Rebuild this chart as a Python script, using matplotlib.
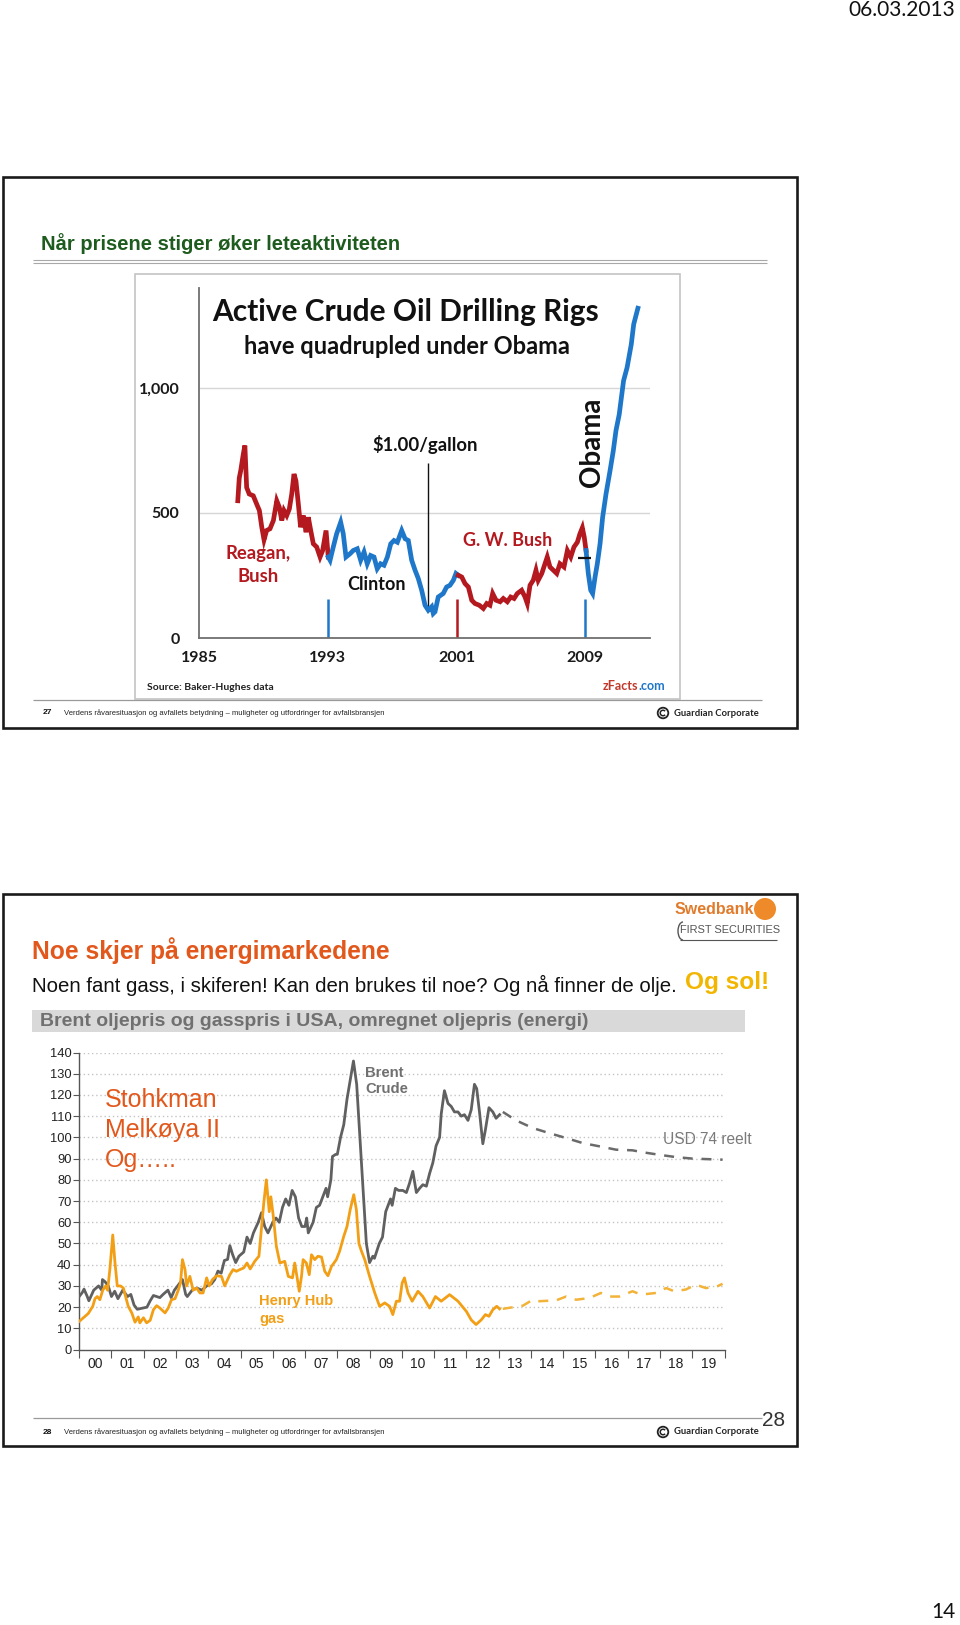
import numpy as np
import matplotlib.pyplot as plt
from matplotlib.patches import Rectangle, Circle, Arc

# active crude oil rigs (Baker-Hughes)
rig_year = np.array([
    1987.41, 1987.50, 1987.59, 1987.75, 1987.85, 1987.96, 1988.12, 1988.37, 1988.58, 1988.75,
    1988.90, 1989.04, 1989.20, 1989.41, 1989.62, 1989.83, 1989.99, 1990.14, 1990.28, 1990.45,
    1990.61, 1990.76, 1990.90, 1991.02, 1991.17, 1991.31, 1991.48, 1991.65, 1991.79, 1991.94,
    1992.10, 1992.31, 1992.52, 1992.68, 1992.89, 1993.03,
    1993.14, 1993.34, 1993.55, 1993.80, 1993.96, 1994.13, 1994.38, 1994.58, 1994.83, 1995.04,
    1995.25, 1995.45, 1995.66, 1995.87, 1996.07, 1996.28, 1996.49, 1996.70, 1996.91, 1997.11,
    1997.32, 1997.59, 1997.80, 1998.00, 1998.21, 1998.42, 1998.62, 1998.83, 1999.04, 1999.24,
    1999.45, 1999.55, 1999.66, 1999.86, 2000.17, 2000.38, 2000.59, 2000.80, 2000.96,
    2001.10, 2001.32, 2001.52, 2001.73, 2001.94, 2002.14, 2002.41, 2002.66, 2002.87, 2003.07,
    2003.24, 2003.45, 2003.70, 2003.90, 2004.15, 2004.36, 2004.57, 2004.77, 2005.04, 2005.25,
    2005.39, 2005.56, 2005.76, 2005.93, 2006.07, 2006.29, 2006.49, 2006.63, 2006.80, 2007.01,
    2007.22, 2007.42, 2007.67, 2007.88, 2008.09, 2008.29, 2008.50, 2008.66, 2008.81, 2008.93,
    2009.04, 2009.18, 2009.33, 2009.45, 2009.60, 2009.74, 2009.91, 2010.07, 2010.28, 2010.53,
    2010.73, 2010.90, 2011.10, 2011.37, 2011.59, 2011.85, 2012.00, 2012.26])
rig_count = np.array([
    549, 640, 669, 735, 770, 602, 576, 569, 536, 510,
    443, 393, 430, 437, 470, 549, 523, 470, 510, 490,
    516, 576, 656, 629, 536, 443, 490, 423, 483, 430,
    377, 364, 324, 350, 430, 324,
    311, 364, 417, 463, 417, 324, 337, 350, 357, 311,
    344, 297, 330, 324, 277, 297, 291, 324, 377, 390,
    383, 430, 397, 390, 311, 271, 238, 191, 131, 111,
    125, 98, 105, 164, 178, 204, 211, 231, 258,
    251, 244, 218, 204, 151, 138, 131, 118, 138, 131,
    178, 151, 145, 158, 145, 164, 158, 178, 191, 164,
    138, 211, 231, 271, 231, 258, 297, 324, 284, 271,
    258, 297, 284, 350, 324, 364, 383, 417, 441, 403,
    350, 258, 191, 178, 244, 297, 377, 483, 576, 669,
    748, 830, 894, 1029, 1082, 1175, 1255, 1319])
term_start = [1985, 1993, 2001, 2009]
term_end = [1993, 2001, 2009, 2013]
term_colors = ['#b3191f', '#1f77c9', '#b3191f', '#1f77c9']

# Brent and Henry Hub (oil-equivalent), USD
brent_year = [2000.0, 2000.1, 2000.15, 2000.25, 2000.3, 2000.45, 2000.6, 2000.7, 2000.72, 2000.8,
              2000.9, 2001.0, 2001.1, 2001.2, 2001.35, 2001.5, 2001.6, 2001.7, 2001.8, 2001.95,
              2002.1, 2002.2, 2002.3, 2002.4, 2002.5, 2002.6, 2002.75, 2002.85, 2002.95, 2003.1,
              2003.2, 2003.3, 2003.35, 2003.5, 2003.65, 2003.8, 2003.95, 2004.1, 2004.2, 2004.3,
              2004.4, 2004.5, 2004.6, 2004.67, 2004.75, 2004.85, 2004.95, 2005.1, 2005.2, 2005.3,
              2005.4, 2005.55, 2005.65, 2005.75, 2005.85, 2006.0, 2006.1, 2006.2, 2006.3, 2006.4,
              2006.5, 2006.6, 2006.7, 2006.8, 2006.9, 2007.0, 2007.05, 2007.1, 2007.25, 2007.35,
              2007.45, 2007.55, 2007.65, 2007.7, 2007.8, 2007.85, 2007.95, 2008.0, 2008.1, 2008.2,
              2008.3, 2008.4, 2008.5, 2008.6, 2008.7, 2008.8, 2008.9, 2009.0, 2009.1, 2009.15,
              2009.3, 2009.4, 2009.5, 2009.55, 2009.65, 2009.7, 2009.8, 2009.9, 2010.03, 2010.14,
              2010.24, 2010.34, 2010.45, 2010.55, 2010.65, 2010.76, 2010.86, 2010.96, 2011.06, 2011.17,
              2011.22, 2011.32, 2011.43, 2011.53, 2011.63, 2011.74, 2011.84, 2011.94, 2012.05, 2012.15,
              2012.25, 2012.32, 2012.41, 2012.51, 2012.59, 2012.7, 2012.82, 2012.92, 2013.03]
brent_usd = [25, 27, 28.5, 25, 23, 28, 30, 28, 33, 32,
             30, 25, 27.5, 24, 28, 25, 26, 21, 19, 19.5,
             20, 23, 25.5, 25, 24.5, 26, 28, 24.5, 28, 31,
             33, 26, 25, 28, 29, 28, 30, 31, 33, 37,
             36, 42, 42.5, 49, 45, 41, 44, 46, 53, 50,
             55, 60, 64.5, 58, 55, 60, 62, 60, 67, 71,
             68, 75, 72, 62, 58, 58, 62, 55, 60, 67,
             68, 72, 76, 72, 80, 91, 92, 92, 100, 106,
             118, 127, 136, 125, 100, 75, 50, 41, 44, 43,
             50, 53, 65, 67, 71, 68, 76, 75, 75, 74,
             78.5, 84, 74, 76, 77.7, 77, 83, 88, 96, 100,
             111, 122, 116, 114.6, 112, 112, 110, 110.7, 108, 113,
             125, 123, 111.5, 97, 103.6, 114, 112, 109, 110.7]
brent_fc_year = [2013.13, 2013.54, 2014.06, 2014.57, 2015.09, 2015.61, 2016.12, 2016.64,
                 2017.15, 2017.46, 2017.98, 2018.5, 2019.01, 2019.94]
brent_fc_usd = [112, 108, 104.4, 102, 99.7, 97.3, 95.8, 94.2, 93.9, 93, 91.8, 90.7, 90, 89.5]

gas_year = [2000.0, 2000.13, 2000.28, 2000.42, 2000.49, 2000.56, 2000.64, 2000.73, 2000.82, 2000.88,
            2000.95, 2001.04, 2001.11, 2001.18, 2001.28, 2001.37, 2001.45, 2001.52, 2001.63, 2001.73,
            2001.83, 2001.88, 2001.99, 2002.09, 2002.2, 2002.3, 2002.4, 2002.5, 2002.66, 2002.76,
            2002.86, 2002.97, 2003.07, 2003.14, 2003.2, 2003.28, 2003.33, 2003.43, 2003.53, 2003.64,
            2003.74, 2003.84, 2003.95, 2004.03, 2004.13, 2004.26, 2004.41, 2004.51, 2004.67, 2004.77,
            2004.87, 2004.98, 2005.1, 2005.2, 2005.3, 2005.44, 2005.57, 2005.65, 2005.72, 2005.8,
            2005.89, 2005.94, 2006.01, 2006.11, 2006.22, 2006.37, 2006.48, 2006.61, 2006.68, 2006.74,
            2006.82, 2006.89, 2006.94, 2007.04, 2007.13, 2007.2, 2007.3, 2007.4, 2007.51, 2007.61,
            2007.71, 2007.82, 2007.97, 2008.07, 2008.2, 2008.3, 2008.4, 2008.51, 2008.59, 2008.67,
            2008.75, 2008.85, 2009.0, 2009.16, 2009.31, 2009.47, 2009.62, 2009.72, 2009.83, 2009.93,
            2010.01, 2010.08, 2010.19, 2010.32, 2010.5, 2010.65, 2010.86, 2011.04, 2011.22, 2011.48,
            2011.74, 2012.0, 2012.15, 2012.3, 2012.46, 2012.59, 2012.7, 2012.82, 2012.94, 2013.03]
gas_usd = [13.3, 15, 17, 20.4, 24, 25, 23.5, 28, 30, 28,
           37.7, 54, 40.8, 30, 30, 29, 24.3, 20.4, 17.3, 12.9,
           15.4, 12.6, 15, 12.6, 13.8, 18.8, 20.7, 19.6, 17.3, 19.6,
           23.5, 24, 28, 31.4, 42.4, 37.7, 30, 34.5, 28, 29,
           26.7, 26.7, 33.8, 30, 33, 34.8, 34.5, 30, 35.3, 37.7,
           36.9, 37.7, 38.5, 40.8, 38, 41.6, 44, 57.3, 69, 80,
           65, 72, 63.6, 48.7, 40.8, 41.6, 34.5, 33.8, 40.8, 35.3,
           27.5, 34.5, 42.4, 40.8, 35.3, 44.7, 42.4, 44, 43.6, 36.9,
           34.8, 39.2, 42.4, 46.3, 53.4, 58, 66, 73, 66, 50,
           46.3, 42.4, 34.5, 26.7, 20.4, 22, 20.4, 16.5, 22.8, 22.8,
           31.4, 33.8, 26.7, 22.8, 27.5, 25, 19.6, 25, 22.8, 25.9,
           22.8, 18, 14, 11.8, 14, 16.5, 15.7, 18.8, 20.4, 19.2]
gas_fc_year = [2013.13, 2013.75, 2014.06, 2014.26, 2014.78, 2015.09, 2015.4, 2015.81, 2016.17,
               2016.43, 2016.74, 2017.15, 2017.41, 2017.88, 2018.19, 2018.44, 2018.8, 2019.11,
               2019.42, 2019.73, 2019.94]
gas_fc_usd = [19.2, 20.7, 23.5, 22.8, 23.2, 25, 23.5, 24.3, 26.7, 25, 25, 27.5, 25.9, 26.7,
              29, 27.5, 28.3, 30.6, 29, 29.5, 31]
year_labels = ['00', '01', '02', '03', '04', '05', '06', '07', '08', '09',
               '10', '11', '12', '13', '14', '15', '16', '17', '18', '19']

W, H = 960, 1625
fig = plt.figure(figsize=(W / 100, H / 100), dpi=100)
fig.patch.set_facecolor('white')

ARIAL = ['Liberation Sans', 'DejaVu Sans']
NARROW = ['Liberation Sans Narrow', 'Liberation Sans', 'DejaVu Sans']
CALIBRI = ['Lato', 'DejaVu Sans']


def px_axes(x0, y0, x1, y1, **kw):
    return fig.add_axes([x0 / W, 1 - y1 / H, (x1 - x0) / W, (y1 - y0) / H], **kw)


# overlay in page pixels (y downwards) for frames and slide texts
pg = px_axes(0, 0, W, H, zorder=5)
pg.set_xlim(0, W)
pg.set_ylim(H, 0)
pg.axis('off')
pg.patch.set_alpha(0)


def txt(x, y, s, size, color='#111111', family=ARIAL, weight='normal', ha='left', va='center', **kw):
    pg.text(x, y, s, fontsize=size, color=color, family=family, weight=weight, ha=ha, va=va, **kw)


def hline(y, x0, x1, color, lw):
    pg.plot([x0, x1], [y, y], color=color, lw=lw, solid_capstyle='butt')


def footer(y_line, y, num):
    hline(y_line, 33, 762, '#9a9a9a', 0.9)
    txt(43, y, num, 6, weight='bold')
    txt(64, y, 'Verdens råvaresituasjon og avfallets betydning \u2013 muligheter og utfordringer for avfallsbransjen',
        5.5, color='#222222', family=NARROW)
    pg.add_patch(Circle((663, y), 5.3, fill=False, ec='#222222', lw=1.3))
    pg.add_patch(Arc((663, y), 5.5, 5.5, theta1=40, theta2=320, ec='#222222', lw=1.1))
    txt(674, y, 'Guardian Corporate', 6.8, color='#222222', family=CALIBRI, weight='bold')


# page header / footer
txt(955, 10, '06.03.2013', 15, family=CALIBRI, ha='right')
txt(956, 1612, '14', 15, family=CALIBRI, ha='right')

# ---------------- slide 27 ----------------
pg.add_patch(Rectangle((2.5, 176.5), 794.5, 551.5, fill=False, ec='#1a1a1a', lw=1.9))
txt(41, 244, 'Når prisene stiger øker leteaktiviteten', 14.5, color='#1e5b1e', family=NARROW, weight='bold')
hline(259.5, 33, 767, '#a8a8a8', 0.8)
hline(262.5, 33, 767, '#a8a8a8', 0.8)
pg.add_patch(Rectangle((135, 273.6), 545, 425, fill=False, ec='#c4c4c4', lw=1.2))
footer(699.6, 713, '27')

ax1 = px_axes(199, 288, 649.8, 638)
ax1.set_xlim(1985, 2013)
ax1.set_ylim(0, 1400)
for s in ['top', 'right']:
    ax1.spines[s].set_visible(False)
for s in ['left', 'bottom']:
    ax1.spines[s].set_color('#707070')
    ax1.spines[s].set_linewidth(1.3)
ax1.set_yticks([0, 500, 1000])
ax1.set_yticklabels(['0', '500', '1,000'])
ax1.set_xticks([1985, 1993, 2001, 2009])
ax1.tick_params(length=0, labelsize=11.5, labelcolor='#1a1a1a')
ax1.tick_params(axis='y', pad=14)
ax1.tick_params(axis='x', pad=9)
for lab in ax1.get_xticklabels() + ax1.get_yticklabels():
    lab.set_family(CALIBRI)
    lab.set_weight('bold')
for g in [500, 1000]:
    ax1.axhline(g, color='#d6d6d6', lw=1, zorder=0)

for a, b, c in zip(term_start, term_end, term_colors):
    idx = np.where((rig_year >= a) & (rig_year < b))[0]
    if idx[-1] + 1 < len(rig_year):
        idx = np.append(idx, idx[-1] + 1)
    ax1.plot(rig_year[idx], rig_count[idx], color=c, lw=3.4, solid_joinstyle='miter', zorder=3)
ax1.vlines(term_start[1:], 0, 155, colors=term_colors[1:], lw=1.8)
ax1.vlines(1999.2, 110, 700, colors='#111111', lw=1)
ax1.hlines(320, 2008.55, 2009.35, colors='#111111', lw=1.6, zorder=4)

txt(406, 312, 'Active Crude Oil Drilling Rigs', 21.5, family=CALIBRI, weight='bold', ha='center')
txt(407, 347, 'have quadrupled under Obama', 17, family=CALIBRI, weight='bold', ha='center')
txt(425, 444, '$1.00/gallon', 13.3, family=CALIBRI, weight='bold', ha='center')
txt(592, 442, 'Obama', 20, family=CALIBRI, weight='bold', ha='center', rotation=90)
txt(258, 553, 'Reagan,', 13.3, color='#b3191f', family=CALIBRI, weight='bold', ha='center')
txt(258, 577, 'Bush', 13.3, color='#b3191f', family=CALIBRI, weight='bold', ha='center')
txt(376, 585, 'Clinton', 13, family=CALIBRI, weight='bold', ha='center')
txt(508, 540, 'G. W. Bush', 13, color='#b3191f', family=CALIBRI, weight='bold', ha='center')
txt(147, 687, 'Source: Baker-Hughes data', 7.5, color='#222222', family=CALIBRI, weight='bold')
txt(638, 686, 'zFacts', 9, color='#c0392b', family=CALIBRI, weight='bold', ha='right')
txt(638, 686, '.com', 9, color='#1f77c9', family=CALIBRI, weight='bold')

# ---------------- slide 28 ----------------
pg.add_patch(Rectangle((2.5, 894), 794.5, 552, fill=False, ec='#1a1a1a', lw=1.9))
txt(675, 909, 'Swedbank', 11.5, color='#e07b2c', weight='bold')
pg.add_patch(Circle((765, 909), 11, color='#ee8a2a', ec='none'))
txt(680, 930, 'FIRST SECURITIES', 7.9, color='#555555', family=NARROW)
pg.add_patch(Arc((683, 931), 10, 18, theta1=90, theta2=270, ec='#555555', lw=1))
hline(939.5, 680, 777, '#555555', 0.8)

txt(32, 951, 'Noe skjer på energimarkedene', 17.7, color='#e2581c', weight='bold')
txt(32, 985, 'Noen fant gass, i skiferen! Kan den brukes til noe? Og nå finner de olje.', 14.7, color='#111111')
txt(685, 983, 'Og sol!', 17.6, color='#f2b600', weight='bold')
pg.add_patch(Rectangle((31.6, 1009.6), 713.4, 22.2, color='#d9d9d9', ec='none'))
txt(40, 1021, 'Brent oljepris og gasspris i USA, omregnet oljepris (energi)', 14, color='#707070', weight='bold')
footer(1418, 1432, '28')
txt(762, 1421, '28', 15, color='#333333', family=ARIAL)

ax2 = px_axes(79.2, 1052.5, 724.5, 1349.6)
ax2.set_xlim(2000, 2020)
ax2.set_ylim(0, 140)
for s in ['top', 'right']:
    ax2.spines[s].set_visible(False)
for s in ['left', 'bottom']:
    ax2.spines[s].set_color('#555555')
    ax2.spines[s].set_linewidth(1)
ax2.set_yticks(range(0, 141, 10))
ax2.set_xticks(range(2000, 2021))
ax2.set_xticklabels([])
ax2.set_xticks([2000.5 + i for i in range(20)], minor=True)
ax2.set_xticklabels(year_labels, minor=True)
ax2.tick_params(axis='y', length=4, color='#555555', labelsize=9.3, labelcolor='#222222', pad=1.5)
ax2.tick_params(axis='x', which='major', length=6, color='#555555')
ax2.tick_params(axis='x', which='minor', length=0, labelsize=10, labelcolor='#222222', pad=5)
for lab in ax2.get_yticklabels() + ax2.get_xticklabels(minor=True):
    lab.set_family(ARIAL)
for v in range(10, 141, 10):
    ax2.axhline(v, color='#c4c4c4', lw=1, ls=(0, (1, 2)), zorder=0)

ax2.plot(brent_year, brent_usd, color='#606060', lw=2, zorder=3)
ax2.plot(brent_fc_year, brent_fc_usd, color='#6a6a6a', lw=1.8, ls=(0, (4, 3.5)), zorder=3)
ax2.plot(gas_year, gas_usd, color='#f29f16', lw=2, zorder=3)
ax2.plot(gas_fc_year, gas_fc_usd, color='#f2b338', lw=1.8, ls=(0, (4, 3.5)), zorder=3)

for i, line in enumerate(['Stohkman', 'Melkøya II', 'Og\u2026..']):
    txt(105, 1100 + 29.8 * i, line, 18, color='#e2581c')
txt(365, 1073, 'Brent', 10.7, color='#707070', weight='bold')
txt(365, 1089, 'Crude', 10.7, color='#707070', weight='bold')
txt(663, 1140, 'USD 74 reelt', 11.2, color='#7a7a7a')
txt(259, 1301, 'Henry Hub', 10.5, color='#f29f16', weight='bold')
txt(259, 1318.6, 'gas', 10.5, color='#f29f16', weight='bold')

fig.savefig('out.png', dpi=100)
